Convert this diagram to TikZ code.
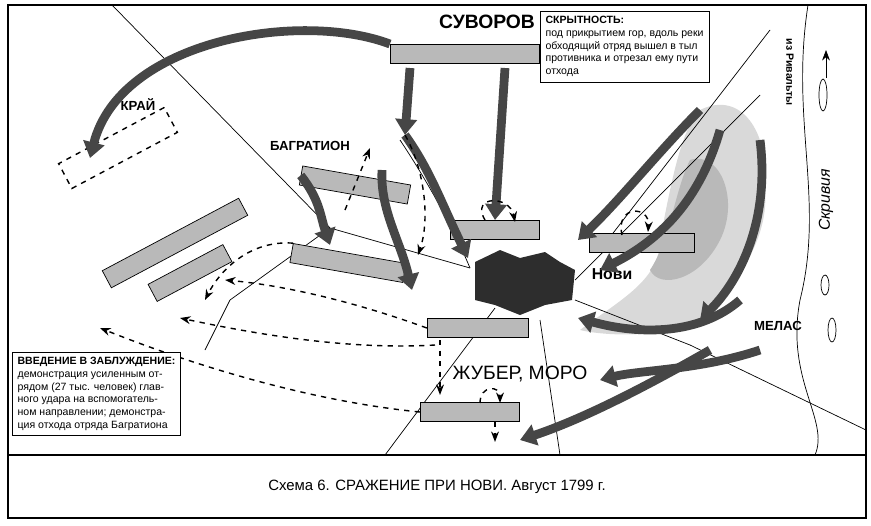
\documentclass[tikz,border=0pt]{standalone}
\usepackage{fontspec}
\setmainfont{Liberation Sans}
\usetikzlibrary{arrows.meta,positioning}

\tikzset{
  unit/.style={draw, fill=gray!55, minimum width={#1*0.567pt}, minimum height=11pt, inner sep=0pt},
  ghost/.style={draw, dashed, thick, minimum width={#1*0.567pt}, minimum height=16pt, inner sep=0pt},
  road/.style={thin},
  feint/.style={dashed, thick, -{Stealth[length=6pt]}},
  bigarrow/.style={line width=5pt, gray!55!black, -{Triangle[length=9pt,width=12pt]}},
  label/.style={font=\bfseries\fontsize{7.5}{9}\selectfont},
  notebox/.style={draw, fill=white, align=left, inner sep=3pt, font=\fontsize{6}{7.2}\selectfont}
}

\begin{document}
\begin{tikzpicture}[x=0.02cm,y=-0.02cm]
        \useasboundingbox (0,0) rectangle (871,525);
        
        %% Frame and caption
        \draw[thick] (8,5) rectangle (866,518);
        \draw[thick] (8,455) -- (866,455);
        \node (caption) at (437,487) {\fontsize{8.5}{10}\selectfont Схема 6. СРАЖЕНИЕ ПРИ НОВИ. Август 1799 г.};
        
        %% River
        \draw (808,5) .. controls (790,120) and (825,200) .. (800,300) .. controls (785,380) and (830,420) .. (815,455);
        \draw (823,95) ellipse (4 and 16);
        \draw (825,285) ellipse (4 and 10);
        \draw (832,330) ellipse (4 and 12);
        \node[rotate=90, font=\itshape\fontsize{9}{10}\selectfont] (skrivia) at (826,200) {Скривия};
        \coordinate (flowa) at (826,78);
        \coordinate (flowb) at (826,50);
        \draw[-{Stealth[length=6pt]}] (flowa) -- (flowb);
        
        %% Mountains
        \fill[gray!30] (700,110) .. controls (740,90) and (770,130) .. (765,190)
            .. controls (770,250) and (720,300) .. (700,320) .. controls (660,340) and (600,335) .. (580,330)
            .. controls (620,300) and (660,280) .. (660,240) .. controls (670,190) and (680,130) .. (700,110) -- cycle;
        \fill[gray!55] (690,160) .. controls (720,150) and (740,200) .. (720,240)
            .. controls (700,280) and (660,290) .. (650,270) .. controls (670,240) and (675,190) .. (690,160) -- cycle;
        
        %% Roads
        \draw[road] (112,5) -- (330,228) -- (470,268);
        \draw[road] (575,300) -- (690,345) -- (866,430);
        \draw[road] (330,228) -- (230,300) -- (205,350);
        \draw[road] (495,308) -- (385,455);
        \draw[road] (540,320) -- (560,455);
        \draw[road] (600,250) -- (770,30);
        \draw[road] (575,280) -- (760,95);
        \draw[road] (470,268) .. controls (450,220) and (420,170) .. (400,140);
        
        %% Novi
        \fill[gray!35!black] (475,262) -- (500,250) -- (520,258) -- (545,252) -- (560,262) -- (575,270)
            -- (572,300) -- (545,305) -- (520,315) -- (495,305) -- (475,300) -- cycle;
        \node[label, font=\bfseries\fontsize{9}{10}\selectfont] (novi) at (612,274) {Нови};
        
        %% Units
        \node[unit=150] (suv) at (465,54) {};
        \node[unit=110, rotate=-10] (bagA) at (355,185) {};
        \node[unit=115, rotate=-10] (bagB) at (348,263) {};
        \node[unit=90] (cen) at (495,230) {};
        \node[unit=105] (east) at (642,243) {};
        \node[unit=102] (south) at (478,328) {};
        \node[unit=100] (rear) at (470,412) {};
        \node[unit=155, rotate=28] (left) at (175,243) {};
        \node[unit=85, rotate=28] (leftB) at (190,273) {};
        \node[ghost=120, rotate=28] (kray) at (118,148) {};
        
        %% Coordinates for manoeuvres
        \coordinate (pass) at (405,135);
        \coordinate (bagtop) at (370,148);
        \coordinate (reardown) at (495,442);
        
        %% Main blows
        \draw[bigarrow] (suv.north west) .. controls (300,10) and (120,40) .. (90,158);
        \draw[bigarrow] (410,68) -- (pass);
        \draw[bigarrow] (505,68) -- (cen.north);
        \draw[bigarrow] (bagA.west) .. controls (320,200) and (320,215) .. (330,245);
        \draw[bigarrow] (382,170) .. controls (380,210) and (400,240) .. (412,290);
        \draw[bigarrow] (pass) .. controls (430,170) and (440,200) .. (468,258);
        \draw[bigarrow] (760,140) .. controls (770,220) and (740,280) .. (700,320);
        \draw[bigarrow] (720,130) .. controls (700,200) and (660,240) .. (600,270);
        \draw[bigarrow] (740,300) .. controls (700,335) and (640,335) .. (578,318);
        \draw[bigarrow] (760,350) .. controls (700,370) and (640,370) .. (600,380);
        \draw[bigarrow] (710,350) .. controls (640,390) and (580,420) .. (520,440);
        \draw[bigarrow] (700,110) .. controls (660,150) and (620,200) .. (578,240);
        
        %% Feints
        \draw[feint] (345,210) -- (bagtop);
        \draw[feint] (pass) .. controls (425,170) and (430,220) .. (418,255);
        \draw[feint] (485,220) .. controls (470,195) and (510,195) .. (515,222);
        \draw[feint] (622,235) .. controls (615,205) and (650,205) .. (648,232);
        \draw[feint] (south.west) .. controls (350,300) and (280,285) .. (225,280);
        \draw[feint] (435,345) .. controls (350,350) and (260,335) .. (180,318);
        \draw[feint] (rear.west) .. controls (300,400) and (180,360) .. (100,328);
        \draw[feint] (440,340) -- (440,395);
        \draw[feint] (480,403) .. controls (480,385) and (500,385) .. (500,403);
        \draw[feint] (495,422) -- (reardown);
        \draw[feint] (bagB.north west) .. controls (250,240) and (220,270) .. (205,300);
        
        %% Names
        \node[font=\bfseries\fontsize{11}{12}\selectfont] (suvname) at (487,22) {СУВОРОВ};
        \node[label] (krayname) at (138,105) {КРАЙ};
        \node[label] (bagname) at (310,146) {БАГРАТИОН};
        \node[label] (melas) at (778,326) {МЕЛАС};
        \node[font=\fontsize{11}{12}\selectfont] (jubert) at (520,374) {ЖУБЕР, МОРО};
        \node[rotate=-90, font=\bfseries\fontsize{6}{7}\selectfont] (rival) at (790,72) {из Ривальты};
        
        %% Notes
        \node[notebox, anchor=north west] (secret) at (540,11) {\textbf{СКРЫТНОСТЬ:}\\
            под прикрытием гор, вдоль реки\\
            обходящий отряд вышел в тыл\\
            противника и отрезал ему пути\\
            отхода};
        \node[notebox, anchor=north west] (decept) at (12,352) {\textbf{ВВЕДЕНИЕ В ЗАБЛУЖДЕНИЕ:}\\
            демонстрация усиленным от-\\
            рядом (27 тыс. человек) глав-\\
            ного удара на вспомогатель-\\
            ном направлении; демонстра-\\
            ция отхода отряда Багратиона};
    \end{tikzpicture}
\end{document}
